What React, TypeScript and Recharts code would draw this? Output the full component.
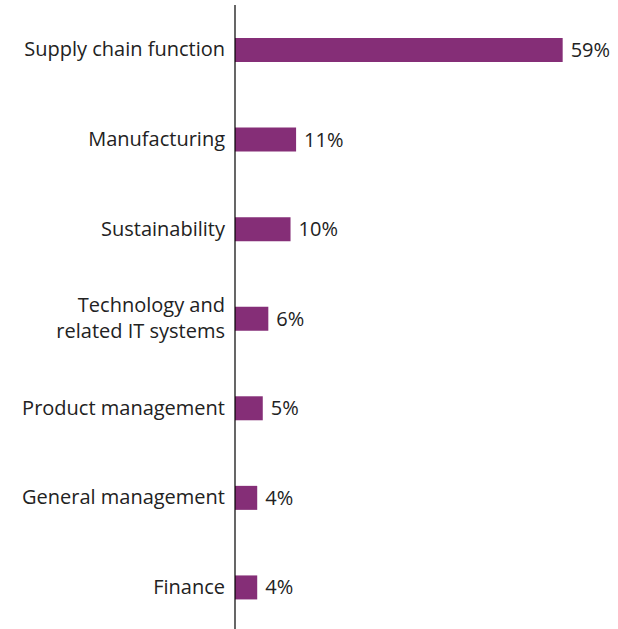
import React from "react";
import { BarChart, Bar, XAxis, YAxis, LabelList } from "recharts";

const categories = [
  "Supply chain function",
  "Manufacturing",
  "Sustainability",
  "Technology and related IT systems",
  "Product management",
  "General management",
  "Finance",
];
const values = [59, 11, 10, 6, 5, 4, 4];
const valueLabels = ["59%", "11%", "10%", "6%", "5%", "4%", "4%"];
const tickLines: Record<string, string[]> = {
  "Technology and related IT systems": ["Technology and", "related IT systems"],
};

const data = categories.map((c, i) => ({ name: c, value: values[i], label: valueLabels[i] }));

const FONT = "'Open Sans', sans-serif";
const TEXT = "#222";
const FS = 20;

const Tick = (props: any) => {
  const { x, y, payload } = props;
  const lines = tickLines[payload.value] || [payload.value];
  const lh = 26;
  const start = -((lines.length - 1) * lh) / 2;
  return (
    <text x={x} y={y} textAnchor="end" fill={TEXT} fontFamily={FONT} fontSize={FS}>
      {lines.map((l, i) => (
        <tspan key={i} x={x} y={y + start + i * lh} dy="0.33em">
          {l}
        </tspan>
      ))}
    </text>
  );
};

const ValueLabel = (props: any) => {
  const { x, y, width, height, value } = props;
  return (
    <text x={x + width + 8} y={y + height / 2} dy="0.35em" fill={TEXT} fontFamily={FONT} fontSize={FS}>
      {value}
    </text>
  );
};

export default function App() {
  return (
    <div style={{ position: "absolute", left: 0, top: 0, width: 618, height: 629, overflow: "hidden", background: "#fff" }}>
      <BarChart
        width={618}
        height={632}
        data={data}
        layout="vertical"
        margin={{ top: 5, right: 22, bottom: 0, left: 0 }}
        barCategoryGap={0}
      >
        <XAxis type="number" domain={[0, 65]} hide />
        <YAxis
          type="category"
          dataKey="name"
          width={235}
          axisLine={{ stroke: "#000", strokeWidth: 1.2 }}
          tickLine={false}
          tickSize={0}
          tickMargin={10}
          tick={<Tick />}
          interval={0}
        />
        <Bar dataKey="value" fill="#852E77" barSize={24} isAnimationActive={false}>
          <LabelList dataKey="label" content={<ValueLabel />} />
        </Bar>
      </BarChart>
    </div>
  );
}
